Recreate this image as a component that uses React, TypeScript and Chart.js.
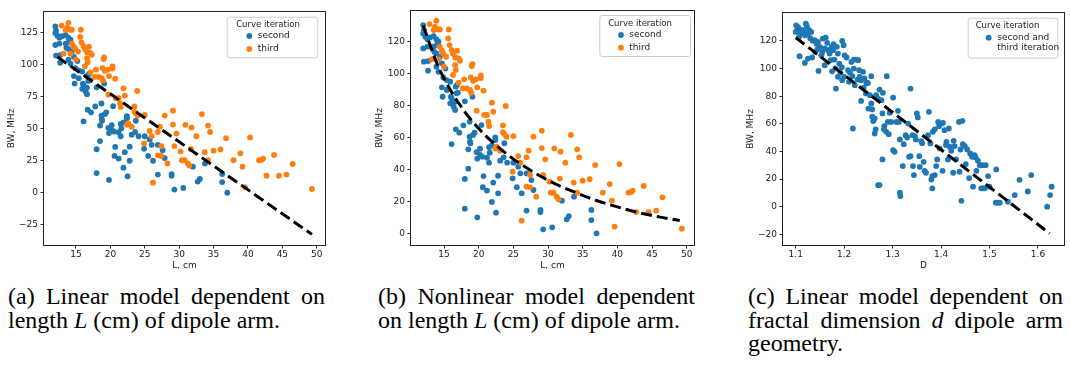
import React, { useEffect, useRef } from 'react';
import { Chart, registerables } from 'chart.js';
Chart.register(...registerables);

const FONT = '"DejaVu Sans", sans-serif';
const BLUE = '#1f77b4';
const ORANGE = '#ff7f0e';
const INK = '#222222';

// ---------- data: second iteration (L in cm, BW in MHz)
const secondL = [12.0, 12.1, 12.0, 12.3, 12.6, 13.0, 13.5, 13.9, 14.2, 12.0, 12.6, 13.5, 12.1, 12.7, 12.7, 13.6, 13.9, 14.4, 13.9, 14.2, 14.7, 14.9, 14.7, 14.8, 15.4, 15.4, 15.9, 16.0, 15.9, 16.4, 16.6, 16.7, 16.8, 16.1, 16.6, 19.1, 16.1, 16.7, 17.2, 17.8, 18.0, 18.0, 18.0, 18.7, 18.7, 18.75, 18.8, 18.5, 18.5, 19.2, 19.4, 19.7, 19.8, 20.2, 20.2, 20.4, 20.5, 20.7, 20.6, 19.8, 21.2, 21.2, 21.5, 21.5, 21.6, 21.9, 22.1, 22.4, 22.4, 22.5, 22.8, 22.8, 21.9, 23.1, 23.7, 23.6, 24.1, 24.9, 25.0, 25.5, 25.7, 26.0, 26.2, 26.9, 26.9, 27.6, 27.9, 28.9, 28.9, 29.3, 30.6, 32.0, 32.7, 33.0, 33.75, 36.25, 36.25, 37.0, 16.9, 17.0, 15.2, 14.0];
const secondBW = [130.2, 127.1, 125.0, 122.9, 121.3, 122.5, 123.3, 121.3, 119.8, 115.6, 116.7, 116.7, 107.3, 107.7, 101.7, 113.5, 112.5, 110.4, 104.2, 101.0, 106.3, 97.5, 91.3, 85.4, 89.6, 95.8, 94.8, 85.4, 81.3, 79.2, 77.1, 91.7, 87.5, 84.4, 82.3, 85.4, 55.8, 65.0, 62.9, 67.5, 82.5, 34.0, 15.4, 69.8, 60.4, 57.3, 56.3, 52.5, 40.4, 61.5, 62.9, 50.8, 46.7, 49.0, 52.9, 67.7, 47.9, 35.8, 28.8, 10.0, 26.7, 47.3, 44.2, 53.8, 50.4, 55.0, 31.7, 60.0, 58.3, 12.9, 36.0, 25.0, 19.6, 45.4, 56.3, 47.5, 44.2, 34.4, 44.2, 28.8, 41.7, 37.5, 25.0, 37.5, 14.2, 33.3, 27.1, 14.6, 13.3, 2.5, 3.75, 20.4, 8.75, 10.8, 22.9, 14.6, 8.3, 0.0, 93.0, 88.0, 103.0, 118.0];

// ---------- data: third iteration
const thirdL = [12.9, 13.7, 13.9, 13.5, 14.2, 14.4, 15.7, 13.2, 14.4, 14.7, 14.9, 15.3, 15.6, 15.8, 16.1, 16.3, 16.9, 16.6, 17.1, 17.3, 16.7, 15.0, 14.2, 16.6, 16.3, 17.9, 17.1, 17.7, 18.3, 18.75, 18.9, 19.1, 19.0, 18.85, 19.2, 19.6, 19.8, 20.3, 20.3, 20.7, 19.7, 20.8, 21.2, 21.4, 21.5, 21.9, 22.1, 23.9, 23.5, 23.5, 23.7, 24.0, 25.0, 22.4, 22.6, 23.1, 24.9, 25.7, 26.0, 26.9, 27.2, 26.9, 27.4, 26.2, 27.4, 28.3, 27.9, 29.1, 29.1, 29.3, 29.6, 30.2, 30.4, 30.8, 30.9, 31.25, 31.5, 31.7, 31.8, 32.5, 33.3, 33.7, 34.2, 34.2, 34.5, 35.0, 36.0, 36.8, 37.9, 38.9, 39.2, 39.6, 40.3, 41.6, 42.0, 42.2, 42.7, 43.8, 44.5, 45.6, 46.5, 49.3];
const thirdBW = [130.8, 129.2, 132.9, 127.1, 127.5, 127.5, 127.5, 108.8, 116.7, 114.2, 112.5, 110.4, 121.9, 117.7, 114.6, 112.5, 114.2, 110.0, 109.4, 107.9, 102.1, 104.2, 108.8, 105.2, 99.0, 96.3, 94.2, 90.6, 90.6, 89.6, 87.9, 105.8, 104.6, 97.5, 95.4, 96.3, 91.3, 98.75, 97.1, 89.2, 76.7, 74.0, 74.0, 69.8, 67.1, 81.7, 76.0, 79.6, 67.5, 63.3, 62.1, 60.4, 60.8, 53.1, 54.2, 51.7, 38.5, 48.3, 44.2, 29.2, 51.7, 47.5, 36.5, 7.9, 28.75, 22.9, 60.4, 64.2, 53.3, 36.5, 46.25, 32.3, 25.4, 25.4, 53.1, 22.9, 21.25, 34.2, 51.0, 44.2, 61.5, 31.7, 25.4, 52.5, 47.5, 32.9, 33.8, 42.7, 25.4, 30.8, 20.4, 4.2, 43.3, 25.4, 25.8, 26.7, 13.3, 29.6, 13.3, 14.2, 22.5, 2.9];

// ---------- data: fractal dimension D (second and third iteration)
const fractalD = [1.101, 1.104, 1.108, 1.100, 1.112, 1.115, 1.121, 1.123, 1.128, 1.132, 1.107, 1.119, 1.108, 1.119, 1.125, 1.134, 1.139, 1.143, 1.146, 1.150, 1.147, 1.153, 1.156, 1.162, 1.165, 1.160, 1.167, 1.170, 1.174, 1.177, 1.178, 1.180, 1.183, 1.185, 1.187, 1.190, 1.187, 1.192, 1.196, 1.199, 1.201, 1.205, 1.196, 1.208, 1.210, 1.215, 1.217, 1.220, 1.225, 1.229, 1.222, 1.218, 1.231, 1.232, 1.235, 1.235, 1.239, 1.242, 1.246, 1.249, 1.253, 1.256, 1.256, 1.258, 1.258, 1.263, 1.265, 1.263, 1.266, 1.270, 1.273, 1.270, 1.273, 1.277, 1.280, 1.279, 1.279, 1.282, 1.283, 1.287, 1.288, 1.290, 1.292, 1.294, 1.297, 1.301, 1.301, 1.304, 1.308, 1.311, 1.313, 1.315, 1.315, 1.316, 1.321, 1.323, 1.327, 1.330, 1.332, 1.334, 1.337, 1.337, 1.341, 1.342, 1.344, 1.346, 1.348, 1.350, 1.352, 1.355, 1.356, 1.359, 1.361, 1.364, 1.366, 1.369, 1.373, 1.375, 1.378, 1.380, 1.382, 1.382, 1.383, 1.387, 1.387, 1.390, 1.392, 1.394, 1.396, 1.397, 1.401, 1.403, 1.404, 1.407, 1.410, 1.411, 1.414, 1.416, 1.418, 1.421, 1.425, 1.426, 1.428, 1.431, 1.437, 1.438, 1.440, 1.442, 1.444, 1.445, 1.449, 1.451, 1.454, 1.458, 1.460, 1.464, 1.466, 1.469, 1.471, 1.473, 1.476, 1.480, 1.483, 1.485, 1.487, 1.490, 1.492, 1.497, 1.500, 1.513, 1.514, 1.517, 1.521, 1.538, 1.552, 1.562, 1.579, 1.586, 1.619, 1.625, 1.628, 1.105, 1.110, 1.118, 1.125, 1.130, 1.135, 1.140, 1.145, 1.155, 1.160, 1.172, 1.175, 1.182, 1.195, 1.200, 1.212, 1.220, 1.228, 1.240, 1.245, 1.250, 1.260];
const fractalBW = [131.3, 128.9, 126.5, 126.5, 125.3, 127.7, 132.5, 130.6, 127.7, 126.5, 122.9, 124.1, 108.9, 104.1, 107.2, 108.0, 120.5, 118.0, 119.3, 115.7, 98.3, 109.6, 121.7, 122.4, 118.6, 102.4, 113.3, 110.8, 115.7, 113.3, 117.6, 106.5, 85.5, 115.7, 110.8, 103.6, 94.0, 96.9, 120.0, 116.9, 109.6, 108.0, 91.6, 98.8, 90.4, 104.8, 94.5, 106.5, 106.5, 106.0, 88.0, 56.6, 98.8, 94.0, 91.6, 76.6, 97.6, 92.8, 89.2, 89.6, 80.7, 94.5, 74.7, 70.4, 65.1, 63.9, 56.0, 53.0, 80.7, 78.3, 84.8, 15.7, 15.7, 77.1, 82.4, 67.5, 34.2, 56.0, 58.3, 54.2, 94.5, 61.4, 52.5, 68.0, 61.4, 79.0, 41.0, 39.8, 61.4, 69.4, 61.4, 48.7, 10.1, 7.7, 29.4, 45.3, 51.8, 50.1, 60.2, 36.1, 85.5, 36.6, 51.8, 29.4, 22.9, 51.1, 48.7, 67.5, 64.6, 36.6, 28.9, 47.5, 46.0, 32.5, 26.0, 24.6, 51.8, 68.7, 45.8, 19.7, 22.2, 13.3, 54.2, 56.0, 22.9, 29.4, 34.2, 61.4, 58.3, 42.2, 60.2, 26.0, 60.7, 55.4, 44.6, 47.0, 34.2, 56.6, 43.4, 40.5, 24.6, 47.7, 43.9, 34.2, 61.4, 25.3, 41.4, 4.3, 62.2, 45.3, 43.9, 30.9, 41.4, 20.7, 38.6, 36.1, 14.5, 37.3, 35.7, 26.0, 33.3, 30.1, 13.3, 30.1, 13.3, 13.3, 30.1, 22.2, 14.5, 2.9, 27.0, 2.9, 2.9, 3.6, 8.4, 19.5, 11.1, 22.9, 0.0, 8.4, 14.5, 130.0, 128.0, 126.8, 125.0, 122.0, 120.2, 112.0, 114.0, 112.0, 114.5, 106.0, 98.0, 100.0, 101.0, 94.0, 97.0, 100.0, 92.0, 86.0, 82.0, 71.0, 62.0];

// ---------- fitted models
const fitLinL = [12.3, 49.3];
const fitLinBW = [106.2, -32.6];
const fitNonL = [12.0, 14.0, 16.0, 18.0, 20.0, 22.0, 25.0, 28.0, 31.0, 34.0, 37.0, 40.0, 43.0, 46.0, 49.0];
const fitNonBW = [130.0, 106.0, 89.0, 76.0, 65.5, 57.0, 46.5, 38.0, 31.0, 25.5, 20.5, 16.5, 13.0, 10.3, 8.0];
const fitDimD = [1.1, 1.624];
const fitDimBW = [122.4, -19.3];

// ---------- ticks
const ticksL = [15, 20, 25, 30, 35, 40, 45, 50];
const ticksBWa = [-25, 0, 25, 50, 75, 100, 125];
const ticksBWb = [0, 20, 40, 60, 80, 100, 120];
const ticksBWc = [-20, 0, 20, 40, 60, 80, 100, 120];
const ticksD = [1.1, 1.2, 1.3, 1.4, 1.5, 1.6];

// ---------- texts
const legendTitle = 'Curve iteration';
const seriesNames = ['second', 'third'];
const combinedName = ['second and', 'third iteration'];
const xTitleL = 'L, cm';
const xTitleD = 'D';
const yTitle = 'BW, MHz';

const pts = (xs: number[], ys: number[]) => xs.map((x, i) => ({ x, y: ys[i] }));

const scatterDs = (label: string, xs: number[], ys: number[], color: string, order: number) => ({
  type: 'scatter',
  label,
  data: pts(xs, ys),
  backgroundColor: color,
  borderColor: color,
  pointRadius: 2.9,
  pointHoverRadius: 2.9,
  pointBorderWidth: 0,
  order,
});

const fitDs = (xs: number[], ys: number[], smooth: boolean) => ({
  type: 'scatter',
  label: 'fit',
  data: pts(xs, ys),
  showLine: true,
  borderColor: '#000000',
  backgroundColor: '#000000',
  borderWidth: 3,
  borderDash: [11, 5],
  borderCapStyle: 'butt',
  pointRadius: 0,
  pointHoverRadius: 0,
  fill: false,
  tension: smooth ? 0.4 : 0,
  cubicInterpolationMode: smooth ? 'monotone' : 'default',
  order: 0,
});

const decorPlugin = {
  id: 'mplDecor',
  afterDraw(chart: any, _args: any, opts: any) {
    const { ctx, chartArea: a } = chart;
    ctx.save();
    ctx.strokeStyle = INK;
    ctx.lineWidth = 1;
    ctx.strokeRect(Math.round(a.left) - 0.5, Math.round(a.top) - 0.5, Math.round(a.right - a.left) + 1, Math.round(a.bottom - a.top) + 1);
    const L = opts.legend;
    if (L) {
      const [bx, by, bw, bh] = L.box;
      ctx.beginPath();
      ctx.roundRect(bx + 0.5, by + 0.5, bw, bh, 2.5);
      ctx.fillStyle = 'rgba(255,255,255,0.8)';
      ctx.fill();
      ctx.strokeStyle = '#cccccc';
      ctx.stroke();
      ctx.fillStyle = INK;
      ctx.font = `8.5px ${FONT}`;
      ctx.textBaseline = 'middle';
      ctx.textAlign = 'center';
      ctx.fillText(L.title, L.titleX, L.titleY);
      ctx.textAlign = 'left';
      ctx.font = `9px ${FONT}`;
      for (const it of L.items) {
        ctx.beginPath();
        ctx.arc(it.mx, it.my, 2.9, 0, Math.PI * 2);
        ctx.fillStyle = it.color;
        ctx.fill();
        ctx.fillStyle = INK;
        it.lines.forEach((s: string, k: number) => ctx.fillText(s, it.tx, it.my + k * 10));
      }
    }
    ctx.restore();
  },
};

const fmtNum = (v: number) => (v < 0 ? '\u2212' + Math.abs(v) : String(v));

type PanelCfg = {
  left: number; width: number; height: number;
  padRight: number; padTop: number; yW: number; xH: number;
  xMin: number; xMax: number; yMin: number; yMax: number;
  xTicks: number[]; yTicks: number[]; xFmt: (v: number) => string;
  xTitle: string; yTitlePad: number;
  datasets: any[]; legend: any;
};

function Panel({ cfg }: { cfg: PanelCfg }) {
  const ref = useRef<HTMLCanvasElement>(null);
  useEffect(() => {
    const tickFont = { family: FONT, size: 9 };
    const chart = new Chart(ref.current as HTMLCanvasElement, {
      type: 'scatter',
      data: { datasets: cfg.datasets },
      plugins: [decorPlugin as any],
      options: {
        animation: false,
        responsive: false,
        devicePixelRatio: 1,
        layout: { padding: { left: 0, right: cfg.padRight, top: cfg.padTop, bottom: 0 } },
        plugins: {
          legend: { display: false },
          tooltip: { enabled: false },
          mplDecor: { legend: cfg.legend },
        } as any,
        scales: {
          x: {
            type: 'linear',
            min: cfg.xMin,
            max: cfg.xMax,
            afterBuildTicks: (s: any) => { s.ticks = cfg.xTicks.map((v) => ({ value: v })); },
            afterFit: (s: any) => { s.height = cfg.xH; },
            ticks: { font: tickFont, color: INK, padding: 0.5, maxRotation: 0, autoSkip: false, callback: (v: any) => cfg.xFmt(Number(v)) },
            grid: { display: true, drawOnChartArea: false, drawTicks: true, tickLength: 3.5, color: INK, lineWidth: 1 },
            border: { display: false },
            title: { display: true, text: cfg.xTitle, font: tickFont, color: INK, padding: { top: 0, bottom: 1 } },
          },
          y: {
            type: 'linear',
            min: cfg.yMin,
            max: cfg.yMax,
            afterBuildTicks: (s: any) => { s.ticks = cfg.yTicks.map((v) => ({ value: v })); },
            afterFit: (s: any) => { s.width = cfg.yW; },
            ticks: { font: tickFont, color: INK, padding: 2.5, autoSkip: false, callback: (v: any) => fmtNum(Number(v)) },
            grid: { display: true, drawOnChartArea: false, drawTicks: true, tickLength: 3.5, color: INK, lineWidth: 1 },
            border: { display: false },
            title: { display: true, text: yTitle, font: tickFont, color: INK, padding: { top: cfg.yTitlePad, bottom: 0 } },
          },
        },
      } as any,
    });
    return () => chart.destroy();
  }, []);
  return (
    <canvas
      ref={ref}
      width={cfg.width}
      height={cfg.height}
      style={{ position: 'absolute', left: cfg.left, top: 0, width: cfg.width, height: cfg.height }}
    />
  );
}

const panelA: PanelCfg = {
  left: 0, width: 340, height: 272, padRight: 15, padTop: 12, yW: 44, xH: 27,
  xMin: 10.35, xMax: 51.2, yMin: -40.9, yMax: 141.4,
  xTicks: ticksL, yTicks: ticksBWa, xFmt: (v) => String(v), xTitle: xTitleL, yTitlePad: 6.3,
  datasets: [
    fitDs(fitLinL, fitLinBW, false),
    scatterDs(seriesNames[1], thirdL, thirdBW, ORANGE, 1),
    scatterDs(seriesNames[0], secondL, secondBW, BLUE, 2),
  ],
  legend: {
    box: [226.7, 16.7, 90.6, 40.6], title: legendTitle, titleX: 268, titleY: 24.3,
    items: [
      { mx: 249.3, my: 36, tx: 257.7, lines: [seriesNames[0]], color: BLUE },
      { mx: 249.3, my: 49, tx: 257.7, lines: [seriesNames[1]], color: ORANGE },
    ],
  },
};

const panelB: PanelCfg = {
  left: 360, width: 340, height: 272, padRight: 6, padTop: 11, yW: 51, xH: 27,
  xMin: 10.24, xMax: 51.05, yMin: -7.3, yMax: 139,
  xTicks: ticksL, yTicks: ticksBWb, xFmt: (v) => String(v), xTitle: xTitleL, yTitlePad: 14.6,
  datasets: [
    fitDs(fitNonL, fitNonBW, true),
    scatterDs(seriesNames[1], thirdL, thirdBW, ORANGE, 1),
    scatterDs(seriesNames[0], secondL, secondBW, BLUE, 2),
  ],
  legend: {
    box: [239.3, 15, 90.7, 41], title: legendTitle, titleX: 280, titleY: 23.3,
    items: [
      { mx: 261, my: 35, tx: 269.3, lines: [seriesNames[0]], color: BLUE },
      { mx: 261, my: 47.7, tx: 269.3, lines: [seriesNames[1]], color: ORANGE },
    ],
  },
};

const panelC: PanelCfg = {
  left: 730, width: 340, height: 272, padRight: 6, padTop: 13, yW: 53, xH: 27,
  xMin: 1.0738, xMax: 1.6537, yMin: -27.7, yMax: 140.2,
  xTicks: ticksD, yTicks: ticksBWc, xFmt: (v) => v.toFixed(1), xTitle: xTitleD, yTitlePad: 15.3,
  datasets: [
    fitDs(fitDimD, fitDimBW, false),
    scatterDs(combinedName.join(' '), fractalD, fractalBW, BLUE, 1),
  ],
  legend: {
    box: [237.7, 17.7, 89.6, 40], title: legendTitle, titleX: 277.5, titleY: 25.7,
    items: [{ mx: 258.7, my: 37.7, tx: 267.3, lines: combinedName, color: BLUE }],
  },
};

const capStyle: React.CSSProperties = {
  position: 'absolute',
  top: 285,
  fontFamily: '"Liberation Serif", "Times New Roman", serif',
  fontSize: 24,
  lineHeight: '23.5px',
  color: '#000',
  whiteSpace: 'nowrap',
};
const justLine: React.CSSProperties = { textAlign: 'justify', textAlignLast: 'justify' as any, whiteSpace: 'normal' };

export default function App() {
  return (
    <div style={{ position: 'absolute', left: 0, top: 0, width: 1070, height: 365, background: '#fff', overflow: 'hidden' }}>
      <Panel cfg={panelA} />
      <Panel cfg={panelB} />
      <Panel cfg={panelC} />
      <div style={{ ...capStyle, left: 8, width: 317 }}>
        <div style={justLine}>(a) Linear model dependent on</div>
        <div>length <i>L</i> (cm) of dipole arm.</div>
      </div>
      <div style={{ ...capStyle, left: 378, width: 317 }}>
        <div style={justLine}>(b) Nonlinear model dependent</div>
        <div>on length <i>L</i> (cm) of dipole arm.</div>
      </div>
      <div style={{ ...capStyle, left: 748, width: 315 }}>
        <div style={justLine}>(c) Linear model dependent on</div>
        <div style={justLine}>fractal dimension <i>d</i> dipole arm</div>
        <div>geometry.</div>
      </div>
    </div>
  );
}
